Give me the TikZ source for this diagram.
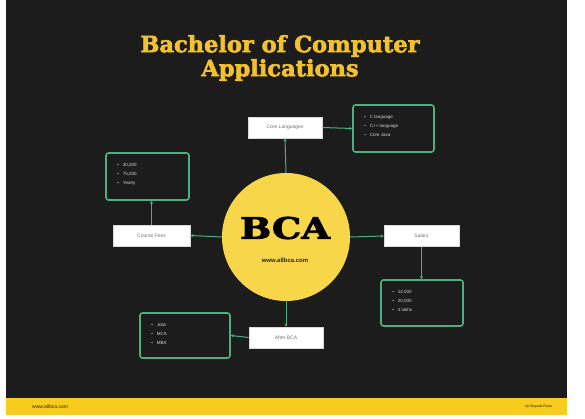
\documentclass[tikz,border=0pt]{standalone}
\usepackage{fontspec}
\setmainfont{Liberation Sans}
\newfontfamily\slabfont[FakeBold=2.5]{DejaVu Serif Bold}
\usetikzlibrary{arrows.meta}
\definecolor{bgdark}{HTML}{1C1C1C}
\definecolor{titleyellow}{HTML}{F2C22E}
\definecolor{circleyellow}{HTML}{F8D64A}
\definecolor{footyellow}{HTML}{F7CC1F}
\definecolor{linkgreen}{HTML}{4CAF7D}
\tikzset{
  labelbox/.style={draw=white!85!black, fill=white, line width=0.6pt, minimum width=74pt, minimum height=21pt, inner sep=0pt, font=\fontsize{5}{6}\selectfont, text=black!55},
  listbox/.style={draw=linkgreen, line width=1.6pt, rounded corners=2.5pt, fill=bgdark, inner sep=0pt},
  link/.style={draw=linkgreen, line width=1pt, -{Stealth[length=3pt,width=3.2pt]}},
  itemtext/.style={font=\fontsize{4.5}{5}\selectfont, text=white!85!black, anchor=west, inner sep=0pt},
}
\newcommand{\bulletlist}[4]{%
  \node[itemtext] at ([xshift=12pt,yshift=-13pt]#1.north west) {\textbullet\hspace{4pt}#2};
  \node[itemtext] at ([xshift=12pt,yshift=-22pt]#1.north west) {\textbullet\hspace{4pt}#3};
  \node[itemtext] at ([xshift=12pt,yshift=-31pt]#1.north west) {\textbullet\hspace{4pt}#4};
}
\begin{document}
\begin{tikzpicture}[x=1pt,y=-1pt]
\useasboundingbox (0,0) rectangle (585,419);
\fill[white] (0,0) rectangle (585,419);
\fill[bgdark] (6,0) rectangle (567,398);
\fill[footyellow] (6,398) rectangle (567,415);
% title
\node[font=\slabfont\fontsize{22.5}{25}\selectfont, text=titleyellow, align=center] (title) at (280,58) {Bachelor of Computer\\[-1pt]Applications};
% circle
\node[circle, fill=circleyellow, minimum size=128pt, inner sep=0pt] (bca) at (286,237) {};
\node[font=\slabfont, text=black, inner sep=0pt] (bcatext) at (285,228) {\resizebox{90pt}{22pt}{BCA}};
\node[font=\fontsize{6}{7}\selectfont\bfseries, text=black!85, inner sep=0pt] (bcaurl) at (285,260) {www.allbca.com};
% label boxes
\node[labelbox] (core) at (285,127.5) {Core Languages};
\node[labelbox, minimum width=77pt] (fees) at (151.5,235.5) {Course Fees};
\node[labelbox, minimum width=75pt] (salary) at (421.5,236) {Salary};
\node[labelbox] (after) at (286,337.5) {After BCA};
% list boxes
\node[listbox, minimum width=81pt, minimum height=47pt] (corelist) at (393.5,128.5) {};
\node[listbox, minimum width=83pt, minimum height=47pt] (feeslist) at (147.5,176.5) {};
\node[listbox, minimum width=82pt, minimum height=46pt] (salarylist) at (422,303) {};
\node[listbox, minimum width=90pt, minimum height=45pt] (afterlist) at (185,335.5) {};
\bulletlist{corelist}{C language}{C++ language}{Core Java}
\bulletlist{feeslist}{30,000}{75,000}{Yearly}
\bulletlist{salarylist}{12,000}{20,000}{4 lakhs}
\bulletlist{afterlist}{Jobs}{MCA}{MBA}
% connectors
\draw[link] (bca.north) -- (core.south);
\draw[link] (core.east) -- (corelist.west);
\draw[link] (bca.west) -- (fees.east);
\draw[link] (fees.north) -- (fees.north |- feeslist.south);
\draw[link] (bca.east) -- (salary.west);
\draw[link] (salary.south) -- (salary.south |- salarylist.north);
\draw[link] (bca.south) -- (after.north);
\draw[link] (after.west) -- (afterlist.east);
% footer
\node[font=\fontsize{5}{6}\selectfont, text=black!85, anchor=west, inner sep=0pt] (footl) at (32,407) {www.allbca.com};
\node[font=\fontsize{3.5}{4}\selectfont, text=black!85, anchor=east, inner sep=0pt] (footr) at (552,407) {by Mayank Rana};
\end{tikzpicture}
\end{document}
